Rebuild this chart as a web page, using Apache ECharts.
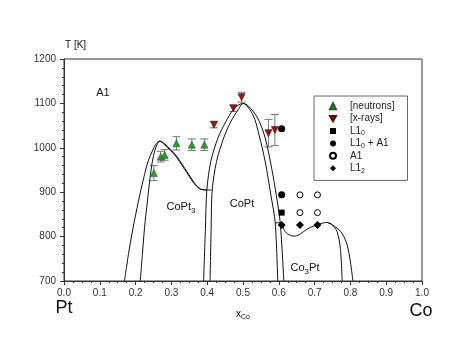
<!DOCTYPE html>
<html>
<head>
<meta charset="utf-8">
<script src="https://cdn.jsdelivr.net/npm/echarts@6/dist/echarts.min.js"></script>
<style>
html, body { margin: 0; padding: 0; background: #fff; }
#main { width: 474px; height: 351px; }
</style>
</head>
<body>
<div id="main"></div>
<script>
// measured points (x_Co, T in K, +/- error)
var neutronX = [0.251, 0.270, 0.281, 0.314, 0.357, 0.392];
var neutronT = [943, 980, 984, 1010, 1007, 1007];
var neutronErr = [17, 12, 12, 15, 13, 13];

var xrayX = [0.419, 0.473, 0.496, 0.571, 0.589];
var xrayT = [1052, 1089, 1114, 1033, 1040];
var xrayErr = [7, 7, 11, 31, 35];

var l10X = [0.608];
var l10T = [854];
var l10a1X = [0.608, 0.608];
var l10a1T = [1043, 894];
var a1X = [0.659, 0.708, 0.659, 0.708];
var a1T = [894, 894, 854, 854];
var l12X = [0.608, 0.659, 0.708];
var l12T = [826, 826, 826];

// phase boundaries [x_Co, T]
var copt3Outer = [[0.169, 700], [0.180, 760], [0.193, 820], [0.208, 880], [0.222, 930], [0.235, 970], [0.248, 995], [0.258, 1010], [0.267, 1015],
    [0.280, 1010], [0.297, 997], [0.314, 982], [0.330, 963], [0.343, 947], [0.355, 932], [0.367, 918], [0.380, 908], [0.393, 905], [0.412, 905]];
var copt3Inner = [[0.213, 700], [0.219, 760], [0.225, 820], [0.233, 880], [0.240, 930], [0.247, 970], [0.254, 995], [0.261, 1009], [0.267, 1015],
    [0.280, 1008], [0.297, 994], [0.314, 979], [0.330, 960], [0.343, 944], [0.355, 929], [0.367, 916], [0.380, 907], [0.398, 905]];
var coptOuter = [[0.390, 700], [0.395, 818], [0.399, 905], [0.410, 969], [0.430, 1022], [0.452, 1059], [0.476, 1089], [0.500, 1100],
    [0.515, 1094], [0.541, 1067], [0.562, 1022], [0.580, 954], [0.593, 893], [0.604, 831], [0.614, 700]];
var coptInner = [[0.408, 700], [0.411, 818], [0.414, 905], [0.426, 969], [0.446, 1022], [0.466, 1059], [0.488, 1088], [0.500, 1100],
    [0.528, 1074], [0.545, 1028], [0.562, 969], [0.578, 893], [0.590, 831], [0.597, 700]];
var co3ptLeft = [[0.590, 831], [0.604, 831], [0.618, 811], [0.632, 803], [0.646, 801], [0.660, 806], [0.679, 817], [0.698, 824],
    [0.712, 828], [0.726, 831], [0.735, 832], [0.749, 827], [0.763, 811], [0.772, 773], [0.777, 700]];
var co3ptRight = [[0.735, 832], [0.758, 822], [0.777, 807], [0.791, 781], [0.800, 743], [0.807, 700]];

var xRange = [0, 1];
var yRange = [700, 1200];

var legendNames = ['[neutrons]', '[x-rays]', 'L1_0', 'L1_0 + A1', 'A1', 'L1_2'];
var legendText = {
    '[neutrons]': '{t|[neutrons]}',
    '[x-rays]': '{t|[x-rays]}',
    'L1_0': '{t|L1}{s|0}',
    'L1_0 + A1': '{t|L1}{s|0}{t| + A1}',
    'A1': '{t|A1}',
    'L1_2': '{t|L1}{s|2}'
};

var FONT = 'Liberation Sans';

function zip(xs, ys) {
    var out = [];
    for (var i = 0; i < xs.length; i++) out.push([xs[i], ys[i]]);
    return out;
}
function bars(xs, ys, es) {
    var out = [];
    for (var i = 0; i < xs.length; i++) out.push([xs[i], ys[i] - es[i], ys[i] + es[i]]);
    return out;
}
function boundary(data) {
    return {
        type: 'line', data: data, smooth: 0.3, showSymbol: false, silent: true,
        lineStyle: { color: '#111', width: 1 }, z: 2
    };
}
function errorBars(data) {
    return {
        type: 'custom', data: data, silent: true, z: 1,
        renderItem: function (params, api) {
            var lo = api.coord([api.value(0), api.value(1)]);
            var hi = api.coord([api.value(0), api.value(2)]);
            var st = { stroke: '#777', lineWidth: 1 };
            return {
                type: 'group', children: [
                    { type: 'line', shape: { x1: lo[0], y1: lo[1], x2: hi[0], y2: hi[1] }, style: st },
                    { type: 'line', shape: { x1: lo[0] - 4, y1: lo[1], x2: lo[0] + 4, y2: lo[1] }, style: st },
                    { type: 'line', shape: { x1: hi[0] - 4, y1: hi[1], x2: hi[0] + 4, y2: hi[1] }, style: st }
                ]
            };
        }
    };
}
var subRich = {
    t: { fontFamily: FONT, fontSize: 11, color: '#111', lineHeight: 18 },
    s: { fontFamily: FONT, fontSize: 8, color: '#111', lineHeight: 10, padding: [8, 0, 0, 0] }
};
function label(text, x, y, size) {
    return {
        type: 'text', x: x, y: y, silent: true,
        style: { text: text, fontFamily: FONT, fontSize: size, fill: '#111', align: 'center', verticalAlign: 'middle', rich: subRich }
    };
}

var chart = echarts.init(document.getElementById('main'), null, { renderer: 'canvas' });

var option = {
    animation: false,
    backgroundColor: '#fff',
    grid: { left: 64, top: 59, width: 358, height: 222, show: true, borderColor: '#333', borderWidth: 1 },
    xAxis: {
        type: 'value', min: xRange[0], max: xRange[1], interval: 0.1,
        axisLine: { lineStyle: { color: '#333' } },
        axisTick: { length: 4, lineStyle: { color: '#333' } },
        minorTick: { show: true, splitNumber: 4, length: 2, lineStyle: { color: '#333' } },
        splitLine: { show: false },
        axisLabel: { fontFamily: FONT, fontSize: 10, color: '#333', margin: 7, formatter: function (v) { return v.toFixed(1); } }
    },
    yAxis: {
        type: 'value', min: yRange[0], max: yRange[1], interval: 100,
        axisLine: { show: true, lineStyle: { color: '#333' } },
        axisTick: { show: true, length: 4, lineStyle: { color: '#333' } },
        minorTick: { show: true, splitNumber: 5, length: 2, lineStyle: { color: '#333' } },
        splitLine: { show: false },
        axisLabel: { fontFamily: FONT, fontSize: 10, color: '#333', margin: 8, formatter: function (v) { return String(v); } }
    },
    legend: {
        data: legendNames.map(function (n) {
            return n === '[x-rays]' ? { name: n, icon: 'path://M0,0L10,0L5,9Z' } : { name: n };
        }),
        orient: 'vertical', left: 314, top: 96,
        padding: [4, 13, 6, 15],
        itemWidth: 6, itemHeight: 6, itemGap: 0,
        borderColor: '#666', borderWidth: 1,
        formatter: function (name) { return legendText[name]; },
        textStyle: {
            fontFamily: FONT, fontSize: 10, color: '#222', padding: [0, 0, 0, 9], lineHeight: 12.4,
            rich: {
                t: { fontFamily: FONT, fontSize: 10, color: '#222', lineHeight: 12.4 },
                s: { fontFamily: FONT, fontSize: 7, color: '#222', lineHeight: 7.4, padding: [5, 0, 0, 0] }
            }
        }
    },
    graphic: [
        { type: 'text', left: 65, top: 40, silent: true, style: { text: 'T [K]', fontFamily: FONT, fontSize: 10, fill: '#111' } },
        label('A1', 103, 93, 11),
        label('{t|CoPt}{s|3}', 181, 207, 11),
        label('CoPt', 242, 204, 11),
        label('{t|Co}{s|3}{t|Pt}', 305, 268, 11),
        label('Pt', 64, 308, 18),
        label('Co', 421, 311, 18),
        {
            type: 'text', x: 243, y: 314, silent: true,
            style: {
                text: '{x|x}{c|Co}', align: 'center', verticalAlign: 'middle',
                rich: {
                    x: { fontFamily: FONT, fontSize: 10, color: '#222', lineHeight: 14 },
                    c: { fontFamily: FONT, fontSize: 7, color: '#222', lineHeight: 8, padding: [7, 0, 0, 0] }
                }
            }
        }
    ],
    series: [
        boundary(copt3Outer),
        boundary(copt3Inner),
        boundary(coptOuter),
        boundary(coptInner),
        boundary(co3ptLeft),
        boundary(co3ptRight),
        errorBars(bars(neutronX, neutronT, neutronErr)),
        errorBars(bars(xrayX, xrayT, xrayErr)),
        {
            name: '[neutrons]', type: 'scatter', data: zip(neutronX, neutronT), symbol: 'triangle', symbolSize: 7, z: 3,
            itemStyle: { color: '#2e9a36', borderColor: '#1d5e22', borderWidth: 0.6, opacity: 1 }
        },
        {
            name: '[x-rays]', type: 'scatter', data: zip(xrayX, xrayT), symbol: 'triangle', symbolRotate: 180, symbolSize: 7, z: 3,
            itemStyle: { color: '#8e1a1a', borderColor: '#5a0d0d', borderWidth: 0.6, opacity: 1 }
        },
        {
            name: 'L1_0', type: 'scatter', data: zip(l10X, l10T), symbol: 'rect', symbolSize: 6, z: 3,
            itemStyle: { color: '#000', opacity: 1 }
        },
        {
            name: 'L1_0 + A1', type: 'scatter', data: zip(l10a1X, l10a1T), symbol: 'circle', symbolSize: 7, z: 3,
            itemStyle: { color: '#000', opacity: 1 }
        },
        {
            name: 'A1', type: 'scatter', data: zip(a1X, a1T), symbol: 'circle', symbolSize: 6, z: 3,
            itemStyle: { color: '#fff', borderColor: '#000', borderWidth: 1, opacity: 1 }
        },
        {
            name: 'L1_2', type: 'scatter', data: zip(l12X, l12T), symbol: 'diamond', symbolSize: 8, z: 3,
            itemStyle: { color: '#000', opacity: 1 }
        }
    ]
};
chart.setOption(option);
</script>
</body>
</html>
